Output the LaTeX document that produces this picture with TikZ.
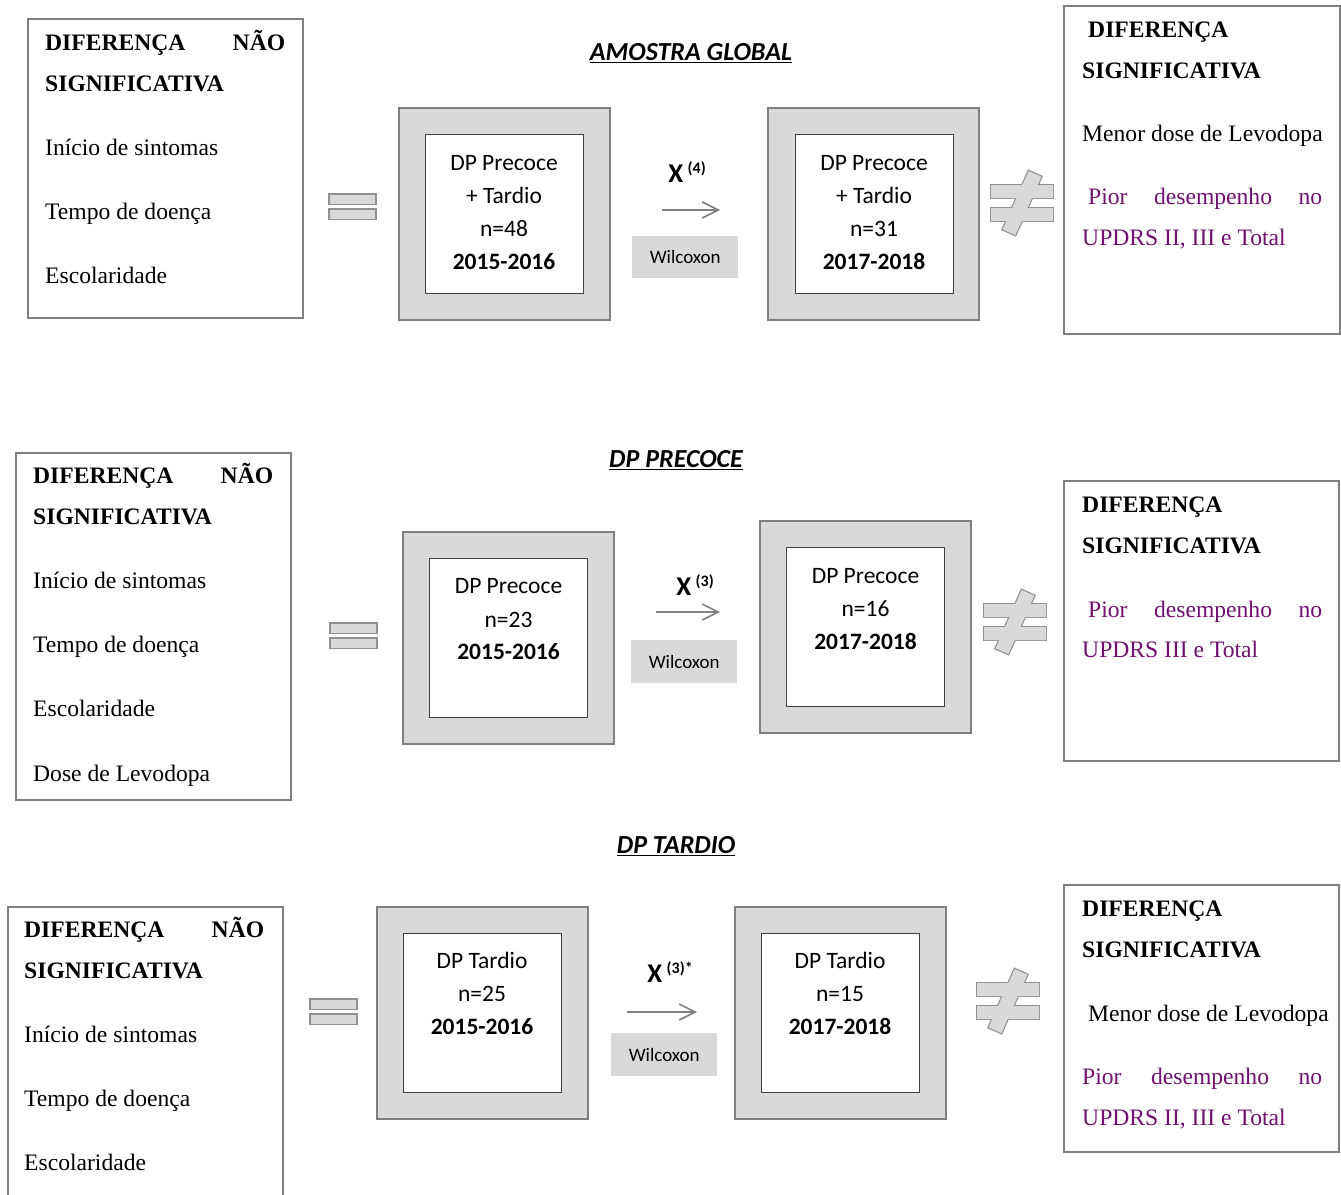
\documentclass[tikz,border=0pt]{standalone}
\usepackage{fontspec}
\setmainfont{Liberation Serif}
\newfontfamily\calibri{Carlito}
\usetikzlibrary{arrows.meta}

\definecolor{panelgray}{HTML}{D9D9D9}
\definecolor{framegray}{HTML}{7F7F7F}
\definecolor{signedge}{HTML}{909090}
\definecolor{arrowgray}{HTML}{808080}
\definecolor{resultpurple}{RGB}{112,16,112}

\tikzset{
  textframe/.style={draw=framegray, line width=1.5pt, fill=white, inner sep=0pt, outer sep=0pt, anchor=north west},
  outerframe/.style={draw=framegray, fill=panelgray, line width=1.5pt, inner sep=0pt, outer sep=0pt,
    anchor=north west, minimum width=211pt, minimum height=212pt},
  innerframe/.style={draw=black!75, fill=white, line width=1pt, inner sep=0pt, outer sep=0pt,
    anchor=north west, minimum width=158pt, minimum height=159pt},
  serif/.style={font=\fontsize{23.6}{28}\selectfont, inner sep=0pt, anchor=base west},
  serifbold/.style={serif, font=\fontsize{23.6}{28}\selectfont\bfseries},
  result/.style={serif, text=resultpurple},
  groupline/.style={font=\calibri\fontsize{23.5}{28}\selectfont, inner sep=0pt, anchor=base},
  groupyear/.style={groupline, font=\calibri\fontsize{23.5}{28}\selectfont\bfseries},
  testbox/.style={fill=panelgray, inner sep=0pt, anchor=north west, minimum width=106pt, minimum height=43pt,
    font=\calibri\fontsize{19}{21}\selectfont},
  statlabel/.style={font=\calibri\bfseries\fontsize{27}{30}\selectfont, inner sep=0pt, anchor=center},
  sectiontitle/.style={font=\calibri\bfseries\itshape\fontsize{26}{30}\selectfont, inner sep=0pt, anchor=center},
  testarrow/.style={draw=arrowgray, line width=1.6pt, -{Straight Barb[length=16pt,width=16pt,line width=1.6pt]}},
  eqbar/.style={fill=panelgray, draw=signedge, line width=1.2pt},
  eqsign/.pic={
    \path[eqbar] (0,0) rectangle (47,10.5);
    \path[eqbar] (0,15) rectangle (47,25.5);
  },
  neqsign/.pic={
    % outline pass, then fill pass that hides the inner edges
    \path[draw=signedge, line width=2.4pt] (-31,-18) rectangle (31,-5) (-31,5) rectangle (31,18);
    \path[draw=signedge, line width=2.4pt, rotate=-24] (-7,-32) -- (7,-32) -- (7,32) -- (-7,32) -- cycle;
    \fill[panelgray] (-31,-18) rectangle (31,-5) (-31,5) rectangle (31,18);
    \fill[panelgray, rotate=-24] (-7,-32) -- (7,-32) -- (7,32) -- (-7,32) -- cycle;
  }
}

\newcommand{\justline}[2]{\makebox[#1][s]{#2}}
\newcommand{\supnote}[1]{\raisebox{9pt}{\fontsize{16}{17}\selectfont #1}}

\begin{document}
\begin{tikzpicture}[x=1pt, y=-1pt]
\useasboundingbox (0,0) rectangle (1341,1194);

% ---------------- AMOSTRA GLOBAL ----------------
\node[sectiontitle] (t1) at (691,53) {\underline{AMOSTRA GLOBAL}};

\node[textframe, minimum width=275pt, minimum height=299pt] (l1) at (28,19) {};
\node[serifbold] (l1a) at (45,50) {\justline{240pt}{DIFERENÇA NÃO}};
\node[serifbold] (l1b) at (45,91) {SIGNIFICATIVA};
\node[serif] (l1c) at (45,155) {Início de sintomas};
\node[serif] (l1d) at (45,219) {Tempo de doença};
\node[serif] (l1e) at (45,283) {Escolaridade};

\pic at (329,194) {eqsign};

\node[outerframe] (o1a) at (399,108) {};
\node[innerframe] (i1a) at (425,134) {};
\node[groupline] (g1a1) at (504,170) {DP Precoce};
\node[groupline] (g1a2) at (504,203) {+ Tardio};
\node[groupline] (g1a3) at (504,236) {n=48};
\node[groupyear] (g1a4) at (504,269) {2015-2016};

\node[statlabel] (s1) at (687,172) {X\,\supnote{(4)}};
\coordinate (a1s) at (662,210);
\coordinate (a1e) at (720,210);
\draw[testarrow] (a1s) -- (a1e);
\node[testbox, minimum height=42pt] (w1) at (632,236) {Wilcoxon};

\node[outerframe] (o1b) at (768,108) {};
\node[innerframe] (i1b) at (795,134) {};
\node[groupline] (g1b1) at (874,170) {DP Precoce};
\node[groupline] (g1b2) at (874,203) {+ Tardio};
\node[groupline] (g1b3) at (874,236) {n=31};
\node[groupyear] (g1b4) at (874,269) {2017-2018};

\pic at (1022,203) {neqsign};

\node[textframe, minimum width=276pt, minimum height=328pt] (r1) at (1064,6) {};
\node[serifbold] (r1a) at (1088,37) {DIFERENÇA};
\node[serifbold] (r1b) at (1082,78) {SIGNIFICATIVA};
\node[serif] (r1c) at (1082,141.5) {Menor dose de Levodopa};
\node[result] (r1d) at (1088,204) {\justline{234pt}{Pior desempenho no}};
\node[result] (r1e) at (1082,245) {UPDRS II, III e Total};

% ---------------- DP PRECOCE ----------------
\node[sectiontitle] (t2) at (676,460) {\underline{DP PRECOCE}};

\node[textframe, minimum width=275pt, minimum height=347pt] (l2) at (16,453) {};
\node[serifbold] (l2a) at (33,483) {\justline{240pt}{DIFERENÇA NÃO}};
\node[serifbold] (l2b) at (33,524) {SIGNIFICATIVA};
\node[serif] (l2c) at (33,588) {Início de sintomas};
\node[serif] (l2d) at (33,652) {Tempo de doença};
\node[serif] (l2e) at (33,716) {Escolaridade};
\node[serif] (l2f) at (33,781) {Dose de Levodopa};

\pic at (330,623) {eqsign};

\node[outerframe] (o2a) at (403,532) {};
\node[innerframe] (i2a) at (429,558) {};
\node[groupline] (g2a1) at (508.5,593) {DP Precoce};
\node[groupline] (g2a2) at (508.5,627) {n=23};
\node[groupyear] (g2a3) at (508.5,659) {2015-2016};

\node[statlabel] (s2) at (695,585) {X\,\supnote{(3)}};
\coordinate (a2s) at (656,612);
\coordinate (a2e) at (720,612);
\draw[testarrow] (a2s) -- (a2e);
\node[testbox] (w2) at (631,640) {Wilcoxon};

\node[outerframe] (o2b) at (760,521) {};
\node[innerframe] (i2b) at (786,547) {};
\node[groupline] (g2b1) at (865.5,583) {DP Precoce};
\node[groupline] (g2b2) at (865.5,616) {n=16};
\node[groupyear] (g2b3) at (865.5,649) {2017-2018};

\pic at (1015,622) {neqsign};

\node[textframe, minimum width=275pt, minimum height=280pt] (r2) at (1064,481) {};
\node[serifbold] (r2a) at (1082,512) {DIFERENÇA};
\node[serifbold] (r2b) at (1082,553) {SIGNIFICATIVA};
\node[result] (r2c) at (1088,617) {\justline{234pt}{Pior desempenho no}};
\node[result] (r2d) at (1082,657) {UPDRS III e Total};

% ---------------- DP TARDIO ----------------
\node[sectiontitle] (t3) at (676,846) {\underline{DP TARDIO}};

\node[textframe, minimum width=275pt, minimum height=300pt] (l3) at (8,907) {};
\node[serifbold] (l3a) at (24,937) {\justline{240pt}{DIFERENÇA NÃO}};
\node[serifbold] (l3b) at (24,978) {SIGNIFICATIVA};
\node[serif] (l3c) at (24,1042) {Início de sintomas};
\node[serif] (l3d) at (24,1106) {Tempo de doença};
\node[serif] (l3e) at (24,1170) {Escolaridade};

\pic at (310,999) {eqsign};

\node[outerframe] (o3a) at (377,907) {};
\node[innerframe] (i3a) at (403,933) {};
\node[groupline] (g3a1) at (482,968) {DP Tardio};
\node[groupline] (g3a2) at (482,1001) {n=25};
\node[groupyear] (g3a3) at (482,1034) {2015-2016};

\node[statlabel] (s3) at (670,972) {X\,\supnote{(3)*}};
\coordinate (a3s) at (627,1012);
\coordinate (a3e) at (697,1012);
\draw[testarrow] (a3s) -- (a3e);
\node[testbox] (w3) at (611,1033) {Wilcoxon};

\node[outerframe] (o3b) at (735,907) {};
\node[innerframe] (i3b) at (761,933) {};
\node[groupline] (g3b1) at (840,968) {DP Tardio};
\node[groupline] (g3b2) at (840,1001) {n=15};
\node[groupyear] (g3b3) at (840,1034) {2017-2018};

\pic at (1008,1001) {neqsign};

\node[textframe, minimum width=275pt, minimum height=267pt] (r3) at (1064,885) {};
\node[serifbold] (r3a) at (1082,916) {DIFERENÇA};
\node[serifbold] (r3b) at (1082,957) {SIGNIFICATIVA};
\node[serif] (r3c) at (1088,1021) {Menor dose de Levodopa};
\node[result] (r3d) at (1082,1084) {\justline{240pt}{Pior desempenho no}};
\node[result] (r3e) at (1082,1125) {UPDRS II, III e Total};
\end{tikzpicture}
\end{document}
